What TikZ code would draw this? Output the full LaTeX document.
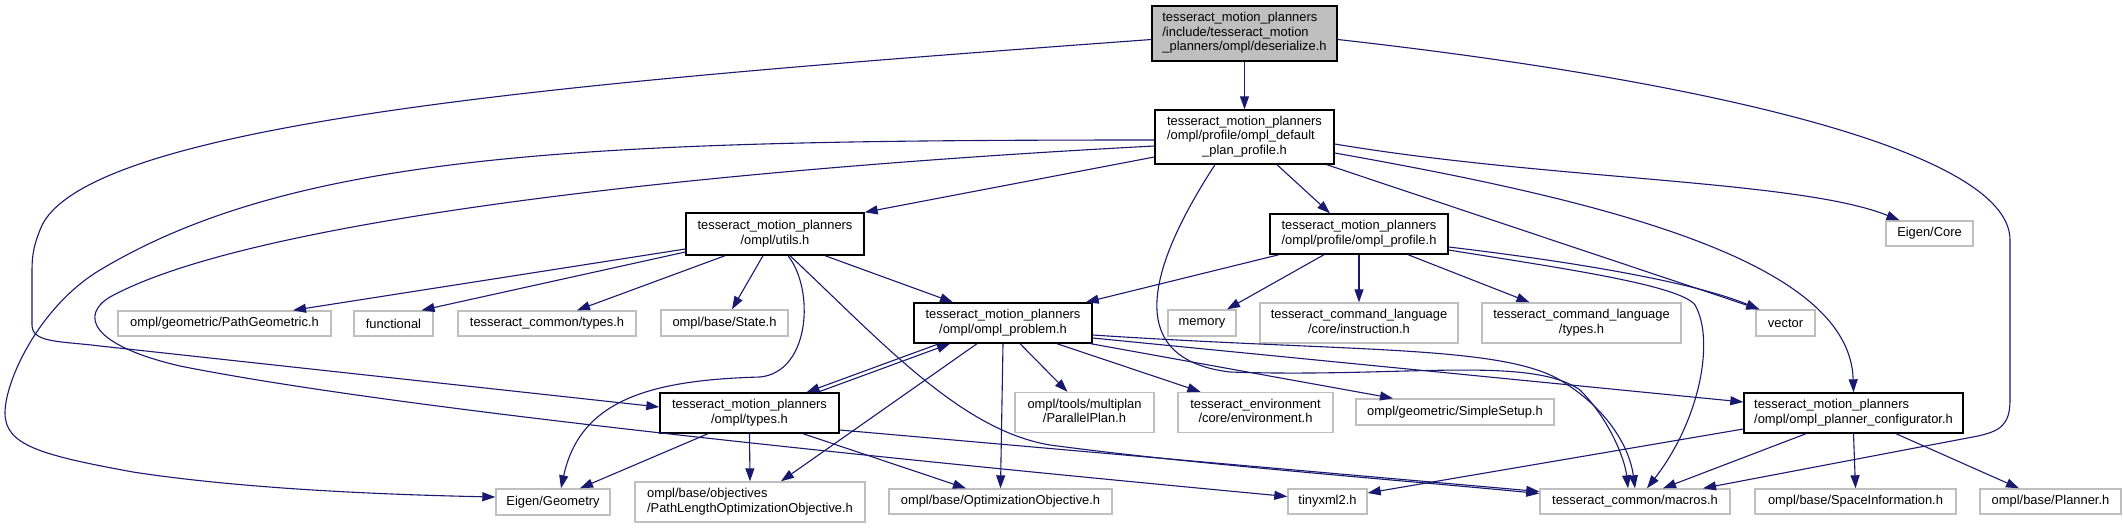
\documentclass[tikz,border=0pt]{standalone}
\usepackage{fontspec}
\setmainfont{Liberation Sans}
\usepackage{tikz}
\usetikzlibrary{arrows.meta}

\definecolor{navyline}{HTML}{191970}
\newcommand{\fsz}{\fontsize{12.9}{14.5}\selectfont}
% lines above the last are flush left, the last one is centred
\newcommand{\fileLines}[2]{\begin{tabular}{@{}l@{}}#1\\\multicolumn{1}{@{}c@{}}{#2}\end{tabular}}

\begin{document}
\begin{tikzpicture}[x=1pt, y=-1pt,
    docfile/.style={rectangle, draw=black, fill=white, line width=1.4pt,
                inner sep=0pt, font=\fsz},
    rootfile/.style={docfile, fill=gray!50},
    sysfile/.style={rectangle, draw=gray!50, fill=white, line width=1.4pt,
                inner sep=0pt, font=\fsz},
    sz/.style 2 args={minimum width=#1pt, minimum height=#2pt},
    inc/.style={-{Triangle[length=13pt, width=9pt]}, line width=1.1pt, draw=navyline},
]
\path[use as bounding box, fill=white] (0,0) rectangle (2123,528);

% --- Documented headers ---
\node[rootfile, sz={185}{55}] (root) at (1244.5,33.5)
  {\fileLines{tesseract\_motion\_planners\\/include/tesseract\_motion}{\_planners/ompl/deserialize.h}};
\node[docfile, sz={179}{54}] (defprof) at (1244.5,137)
  {\fileLines{tesseract\_motion\_planners\\/ompl/profile/ompl\_default}{\_plan\_profile.h}};
\node[docfile, sz={178}{42}] (utils) at (775,234)
  {\fileLines{tesseract\_motion\_planners}{/ompl/utils.h}};
\node[docfile, sz={178}{40}] (prof) at (1359,234)
  {\fileLines{tesseract\_motion\_planners}{/ompl/profile/ompl\_profile.h}};
\node[docfile, sz={178}{40}] (problem) at (1003,323)
  {\fileLines{tesseract\_motion\_planners}{/ompl/ompl\_problem.h}};
\node[docfile, sz={179}{40}] (types) at (749.5,413)
  {\fileLines{tesseract\_motion\_planners}{/ompl/types.h}};
\node[docfile, sz={219}{40}] (planner) at (1853.5,413)
  {\fileLines{tesseract\_motion\_planners}{/ompl/ompl\_planner\_configurator.h}};

% --- System and external headers ---
\node[sysfile, sz={87}{25}] (eigencore) at (1929.5,233.5) {Eigen/Core};
\node[sysfile, sz={213}{25}] (pathgeo) at (224.5,323.5) {ompl/geometric/PathGeometric.h};
\node[sysfile, sz={79}{25}] (functional) at (393.5,323.5) {functional};
\node[sysfile, sz={178}{25}] (tctypes) at (547,323.5) {tesseract\_common/types.h};
\node[sysfile, sz={127}{26}] (state) at (724.5,323) {ompl/base/State.h};
\node[sysfile, sz={68}{26}] (memory) at (1202,323) {memory};
\node[sysfile, sz={198}{40}] (instr) at (1359,323)
  {\fileLines{tesseract\_command\_language}{/core/instruction.h}};
\node[sysfile, sz={199}{40}] (tcltypes) at (1581.5,323)
  {\fileLines{tesseract\_command\_language}{/types.h}};
\node[sysfile, sz={59}{26}] (vector) at (1785.5,323) {vector};
\node[sysfile, sz={139}{40}] (parplan) at (1084.5,412.5)
  {\fileLines{ompl/tools/multiplan}{/ParallelPlan.h}};
\node[sysfile, sz={155}{40}] (environ) at (1255.5,412.5)
  {\fileLines{tesseract\_environment}{/core/environment.h}};
\node[sysfile, sz={198}{26}] (simple) at (1455,412) {ompl/geometric/SimpleSetup.h};
\node[sysfile, sz={114}{26}] (eigengeo) at (553,502) {Eigen/Geometry};
\node[sysfile, sz={230}{40}] (pathlen) at (750,502)
  {\fileLines{ompl/base/objectives}{/PathLengthOptimizationObjective.h}};
\node[sysfile, sz={223}{25}] (optobj) at (1000.5,501.5) {ompl/base/OptimizationObjective.h};
\node[sysfile, sz={79}{25}] (tinyxml) at (1327.5,501.5) {tinyxml2.h};
\node[sysfile, sz={190}{25}] (macros) at (1635,501.5) {tesseract\_common/macros.h};
\node[sysfile, sz={201}{25}] (spaceinfo) at (1855.5,501.5) {ompl/base/SpaceInformation.h};
\node[sysfile, sz={141}{25}] (plannerh) at (2050.5,501.5) {ompl/base/Planner.h};

% --- Includes of deserialize.h ---
\draw[inc] (root.south) -- (defprof.north);
\draw[inc] ([yshift=-6]root.west) .. controls (600,80) and (80,120) .. (40,230)
  .. controls (32,250) and (32,260) .. (32,275) -- (32,325)
  .. controls (32,343) and (60,341) .. (100,346) -- ([yshift=6]types.west);
\draw[inc] ([yshift=-6]root.east) .. controls (1700,80) and (2010,150) .. (2010,240)
  -- (2010,400) .. controls (2010,425) and (2000,431) .. (1978,436)
  -- ([xshift=68]macros.north);

% --- Includes of ompl_default_plan_profile.h ---
\draw[inc] ([yshift=-20]defprof.west) -- (utils.north east);
\draw[inc] ([xshift=32.5]defprof.south) -- ([xshift=-29]prof.north);
\draw[inc] ([yshift=-7]defprof.east) .. controls (1550,180) and (1800,180) .. ([xshift=-30]eigencore.north);
\draw[inc] ([xshift=-8]defprof.south east) -- ([xshift=4]vector.north west);
\draw[inc] ([yshift=-16]defprof.east) .. controls (1600,200) and (1850,260) .. (planner.north);
\draw[inc] ([xshift=-29.5]defprof.south) .. controls (1140,280) and (1130,360) .. (1230,372)
  .. controls (1400,378) and (1530,355) .. (1580,390)
  .. controls (1610,420) and (1625,460) .. ([xshift=-7]macros.north);
\draw[inc] ([yshift=-3]defprof.west) .. controls (600,140) and (300,150) .. (100,270)
  .. controls (40,306) and (5,380) .. (5,413)
  .. controls (5,445) and (40,455) .. (133,472)
  .. controls (250,490) and (400,495) .. ([yshift=5]eigengeo.west);
\draw[inc] ([yshift=-9]defprof.west) .. controls (700,170) and (250,220) .. (110,297)
  .. controls (80,315) and (90,345) .. (180,366)
  .. controls (400,410) and (900,460) .. ([yshift=5]tinyxml.west);

% --- Includes of utils.h ---
\draw[inc] ([yshift=-15]utils.west) -- ([xshift=68.5]pathgeo.north);
\draw[inc] ([yshift=-18]utils.west) -- ([xshift=28]functional.north);
\draw[inc] ([xshift=-50]utils.south) -- ([xshift=30]tctypes.north);
\draw[inc] ([xshift=-12]utils.south) -- ([xshift=7.5]state.north);
\draw[inc] ([xshift=13]utils.south) .. controls (815,290) and (810,372) .. (760,377)
  .. controls (650,380) and (580,400) .. ([xshift=8]eigengeo.north);
\draw[inc] ([xshift=15]utils.south) .. controls (880,340) and (960,430) .. (1050,445)
  .. controls (1200,465) and (1400,480) .. ([yshift=8]macros.west);
\draw[inc] ([xshift=50]utils.south) -- ([xshift=-50]problem.north);

% --- Includes of ompl_profile.h ---
\draw[inc] ([xshift=-80]prof.south) -- ([xshift=-7]problem.north east);
\draw[inc] ([xshift=-35]prof.south) -- ([xshift=25]memory.north);
\draw[inc] (prof.south) -- (instr.north);
\draw[inc] ([xshift=49]prof.south) -- ([xshift=-52]tcltypes.north);
\draw[inc] ([yshift=-13]prof.east) .. controls (1600,265) and (1700,285) .. ([xshift=4]vector.north west);
\draw[inc] ([yshift=-16]prof.east) .. controls (1560,268) and (1680,285) .. (1695,305)
  .. controls (1715,340) and (1700,420) .. ([xshift=12]macros.north);

% --- Includes of ompl_problem.h ---
\draw[inc] ([xshift=-64]problem.south) -- ([xshift=57]types.north);
\draw[inc] ([xshift=-26]problem.south) -- ([xshift=31]pathlen.north);
\draw[inc] (problem.south) -- (optobj.north);
\draw[inc] ([xshift=17]problem.south) -- ([xshift=-17]parplan.north);
\draw[inc] ([xshift=54]problem.south) -- ([xshift=-55]environ.north);
\draw[inc] ([xshift=-2]problem.south east) -- ([xshift=-62]simple.north);
\draw[inc] ([yshift=-15]problem.east) -- ([yshift=11]planner.west);
\draw[inc] ([yshift=-12]problem.east) .. controls (1350,352) and (1500,345) .. (1560,380)
  .. controls (1610,410) and (1630,450) .. (macros.north);

% --- Includes of types.h ---
\draw[inc] ([xshift=68]types.north) -- ([xshift=-53]problem.south);
\draw[inc] ([xshift=-41.5]types.south) -- ([xshift=27]eigengeo.north);
\draw[inc] (types.south) -- (pathlen.north);
\draw[inc] ([xshift=53.5]types.south) -- ([xshift=-34.5]optobj.north);
\draw[inc] ([yshift=-17]types.east) -- ([yshift=10]macros.west);

% --- Includes of ompl_planner_configurator.h ---
\draw[inc] ([yshift=-16]planner.west) -- ([yshift=8.5]tinyxml.east);
\draw[inc] ([xshift=-47.5]planner.south) -- ([xshift=28]macros.north);
\draw[inc] (planner.south) -- (spaceinfo.north);
\draw[inc] ([xshift=42.5]planner.south) -- ([xshift=-31.5]plannerh.north);

\end{tikzpicture}
\end{document}
